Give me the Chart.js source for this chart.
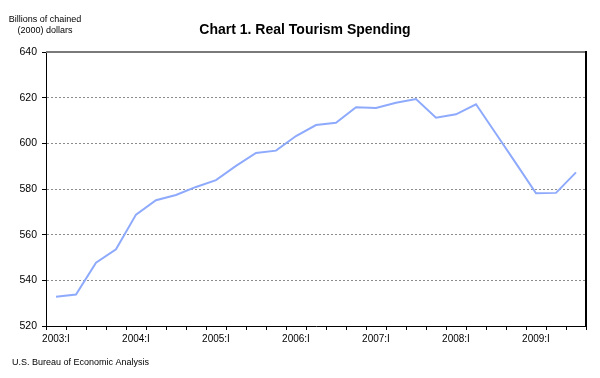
<!DOCTYPE html>
<html>
<head>
<meta charset="utf-8">
<script src="https://cdn.jsdelivr.net/npm/chart.js@4/dist/chart.umd.min.js"></script>
<style>
html,body{margin:0;padding:0;background:#fff;}
#c{display:block;}
</style>
</head>
<body>
<canvas id="c" width="600" height="378"></canvas>
<script>
const quarters = [
  '2003:I','2003:II','2003:III','2003:IV',
  '2004:I','2004:II','2004:III','2004:IV',
  '2005:I','2005:II','2005:III','2005:IV',
  '2006:I','2006:II','2006:III','2006:IV',
  '2007:I','2007:II','2007:III','2007:IV',
  '2008:I','2008:II','2008:III','2008:IV',
  '2009:I','2009:II','2009:III'
];
const spending = [
  532.8, 533.8, 547.7, 553.6,
  568.8, 575.1, 577.4, 580.9,
  583.9, 590.1, 595.8, 596.8,
  603.2, 608.0, 609.0, 615.8,
  615.5, 617.8, 619.4, 611.2,
  612.7, 617.1, 604.2, 591.2,
  578.1, 578.3, 587.3
];
const yMin = 520, yMax = 640, yStep = 20;
const titleText = 'Chart 1. Real Tourism Spending';
const unitLines = ['Billions of chained', '(2000) dollars'];
const sourceText = 'U.S. Bureau of Economic Analysis';

const FONT = 'Arial, "Liberation Sans", sans-serif';

const framePlugin = {
  id: 'frame',
  afterDraw(chart) {
    const ctx = chart.ctx;
    const a = chart.chartArea;
    ctx.save();
    // top frame line (gray) and right frame line (black)
    ctx.fillStyle = '#7a7a7a';
    ctx.fillRect(a.left, a.top - 1, a.right - a.left + 1, 2);
    ctx.fillStyle = '#000';
    ctx.fillRect(a.right - 1, a.top - 1, 2, a.bottom - a.top + 2);
    // texts
    ctx.fillStyle = '#000';
    ctx.textAlign = 'center';
    ctx.textBaseline = 'alphabetic';
    ctx.font = 'bold 14px ' + FONT;
    ctx.fillText(titleText, 305, 34);
    ctx.font = '9px ' + FONT;
    ctx.fillText(unitLines[0], 45, 22);
    ctx.fillText(unitLines[1], 45, 33);
    ctx.textAlign = 'left';
    ctx.fillText(sourceText, 12, 365);
    ctx.restore();
  }
};

new Chart(document.getElementById('c'), {
  type: 'line',
  data: {
    labels: quarters,
    datasets: [{
      data: spending,
      borderColor: '#8EAAFC',
      borderWidth: 2,
      pointRadius: 0,
      tension: 0,
      fill: false
    }]
  },
  options: {
    responsive: false,
    animation: false,
    layout: { padding: { top: 52, right: 14, left: 0, bottom: 0 } },
    plugins: { legend: { display: false }, title: { display: false }, tooltip: { enabled: false } },
    scales: {
      x: {
        type: 'category',
        offset: true,
        afterFit(s) { s.height = 52; },
        grid: {
          offset: true,
          drawOnChartArea: false,
          drawTicks: true,
          tickLength: 4,
          tickColor: '#000'
        },
        border: { color: '#000', width: 1 },
        ticks: {
          autoSkip: false,
          maxRotation: 0,
          minRotation: 0,
          padding: 3,
          color: '#000',
          font: { family: FONT, size: 10 },
          callback(v, i) { const l = quarters[i]; return l.endsWith(':I') ? l : ''; }
        }
      },
      y: {
        min: yMin,
        max: yMax,
        afterFit(s) { s.width = 46; },
        grid: {
          color(c) {
            if (c.tick && (c.tick.value === yMin || c.tick.value === yMax)) return 'rgba(0,0,0,0)';
            return '#8c8c8c';
          },
          lineWidth: 1,
          drawTicks: true,
          tickLength: 4,
          tickColor: '#000'
        },
        border: {
          color: '#000',
          width: 1,
          dash: [2, 2]
        },
        ticks: {
          stepSize: yStep,
          padding: 5,
          color: '#000',
          font: { family: FONT, size: 10.5 }
        }
      }
    }
  },
  plugins: [framePlugin]
});
</script>
</body>
</html>
